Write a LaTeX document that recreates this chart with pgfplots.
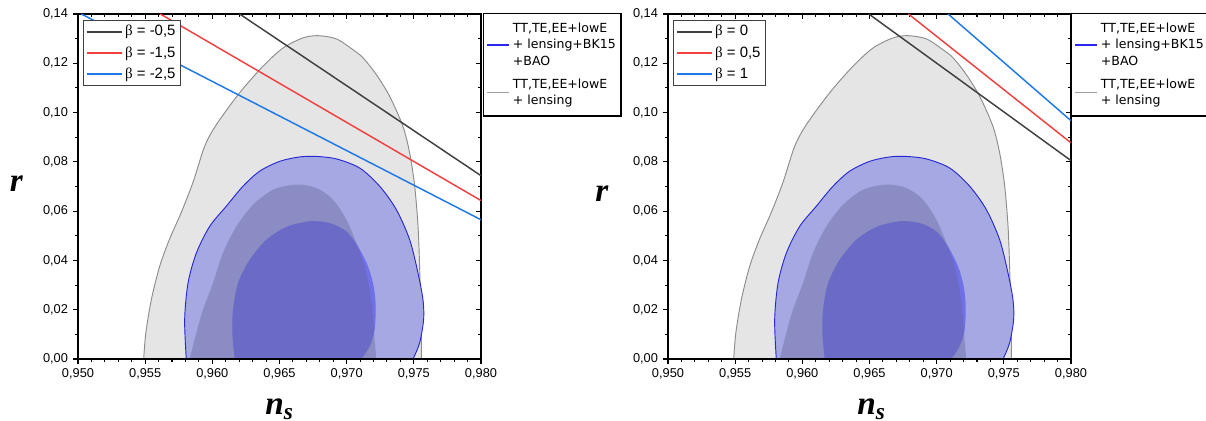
\documentclass[border=0pt]{standalone}
\usepackage{pgfplots}
\usepackage{pgfplotstable}
\pgfplotsset{compat=1.18}
\usepackage{fontspec}
\setmainfont{Liberation Sans}
\newfontfamily\grk{Liberation Serif}
\newfontfamily\legfont{DejaVu Sans}

\definecolor{bzero}{RGB}{64,64,64}
\definecolor{bred}{RGB}{240,64,64}
\definecolor{bblue}{RGB}{30,120,230}
\definecolor{gout}{RGB}{229,229,229}
\definecolor{gedge}{RGB}{140,140,140}
\definecolor{bout}{RGB}{165,168,227}
\definecolor{bedge}{RGB}{40,40,210}
\definecolor{bin}{RGB}{112,112,232}
\definecolor{gin}{RGB}{100,100,150}
\definecolor{legblue}{RGB}{40,40,240}
\definecolor{leggray}{RGB}{160,160,160}

% TT,TE,EE+lowE+lensing, 2 sigma
\pgfplotstableread{
ns r
0.95489 0
0.95505 0.0106
0.95546 0.0241
0.95608 0.0376
0.95682 0.0487
0.95769 0.0595
0.95856 0.0717
0.95943 0.0863
0.96030 0.0951
0.96203 0.1080
0.96377 0.1188
0.96526 0.1262
0.96675 0.1303
0.96787 0.1312
0.96923 0.1299
0.97047 0.1255
0.97122 0.1222
0.97221 0.1154
0.97320 0.1066
0.97419 0.0944
0.97469 0.0836
0.97506 0.0704
0.97531 0.0541
0.97543 0.0376
0.97556 0.0106
0.97556 0
}\grayout

% TT,TE,EE+lowE+lensing, 1 sigma
\pgfplotstableread{
ns r
0.95831 0
0.95881 0.0106
0.95930 0.0200
0.96005 0.0308
0.96079 0.0430
0.96179 0.0538
0.96303 0.0626
0.96452 0.0687
0.96625 0.0708
0.96774 0.0694
0.96898 0.0647
0.96998 0.0565
0.97072 0.0471
0.97134 0.0376
0.97171 0.0281
0.97196 0.0173
0.97208 0.0078
0.97221 0
}\grayin

% +BK15+BAO, 2 sigma
\pgfplotstableread{
ns r
0.95806 0
0.95794 0.0160
0.95819 0.0308
0.95881 0.0430
0.95980 0.0538
0.96104 0.0620
0.96228 0.0701
0.96352 0.0762
0.96501 0.0802
0.96650 0.0820
0.96774 0.0822
0.96923 0.0812
0.97097 0.0775
0.97246 0.0701
0.97370 0.0606
0.97469 0.0484
0.97531 0.0349
0.97568 0.0241
0.97573 0.0160
0.97543 0.0065
0.97494 0
}\blueout

% +BK15+BAO, 1 sigma
\pgfplotstableread{
ns r
0.96166 0
0.96149 0.0106
0.96154 0.0200
0.96191 0.0308
0.96278 0.0403
0.96402 0.0484
0.96551 0.0536
0.96725 0.0559
0.96873 0.0552
0.96998 0.0518
0.97084 0.0457
0.97159 0.0376
0.97201 0.0295
0.97216 0.0214
0.97208 0.0119
0.97171 0.0051
0.97109 0
}\bluein

\pgfplotsset{
  frame/.style={
    scale only axis, width=302.25pt, height=258.75pt,
    xmin=0.950, xmax=0.980, ymin=0, ymax=0.14,
    xtick={0.950,0.955,0.960,0.965,0.970,0.975,0.980},
    ytick={0,0.02,0.04,0.06,0.08,0.10,0.12,0.14},
    minor x tick num=4, minor y tick num=1,
    scaled ticks=false,
    axis line style={line width=1.1pt},
    major tick length=4pt, minor tick length=2.3pt,
    tick style={line width=0.8pt, black},
    tick label style={font=\fontsize{9.6}{11}\selectfont},
    xticklabel style={/pgf/number format/.cd, fixed, fixed zerofill, precision=3, use comma, assume math mode=true},
    yticklabel style={/pgf/number format/.cd, fixed, fixed zerofill, precision=2, use comma, assume math mode=true},
  },
  contours/.style={frame,
    tick align=outside, xtick pos=lower, ytick pos=left,
    xlabel={{\grk\bfseries\itshape n\textsubscript{s}}},
    xlabel style={font=\fontsize{25}{28}\selectfont, at={(axis description cs:0.5,-0.16)}, anchor=base},
    ylabel={{\grk\bfseries\itshape r}},
    ylabel style={font=\fontsize{25}{28}\selectfont, rotate=-90, anchor=center},
    legend style={anchor=north west, draw=black, line width=1.1pt,
      font=\legfont\fontsize{9.4}{12.3}\selectfont, cells={align=left, anchor=west}, row sep=4.5pt,
      inner xsep=2pt, inner ysep=5pt},
    legend image code/.code={\draw[#1] (0pt,0pt) -- (17pt,0pt);},
  },
  betas/.style={frame,
    tick align=inside, xtick pos=upper, ytick pos=right,
    xticklabels={}, yticklabels={},
    legend style={at={(rel axis cs:0.012,0.984)}, anchor=north west, draw=bzero, line width=0.9pt,
      font=\fontsize{11.2}{13}\selectfont, cells={anchor=west}, row sep=2.5pt, inner sep=2pt},
    legend image code/.code={\draw[#1] (0pt,0pt) -- (26pt,0pt);},
  },
}

\begin{document}
\begin{tikzpicture}
\useasboundingbox (-58.5pt,-46.5pt) rectangle (846pt,269.25pt);

% ---------- left panel ----------
\begin{axis}[contours, at={(0pt,0pt)},
  legend style={at={(rel axis cs:1.004,1.003)}},
  ylabel style={at={(axis description cs:-0.153,0.507)}}]
\addplot[fill=gout, draw=gedge, line width=0.7pt, smooth, forget plot] table {\grayout};
\addplot[fill=bout, draw=bedge, line width=0.7pt, smooth, forget plot] table {\blueout};
\addplot[fill=bin, draw=none, smooth, forget plot] table {\bluein};
\addplot[fill=gin, fill opacity=0.4, draw=none, smooth, forget plot] table {\grayin};
\addlegendimage{color=legblue, draw=legblue, line width=1.2pt}
\addlegendentry{TT,TE,EE+lowE\\+ lensing+BK15\\+BAO}
\addlegendimage{color=leggray, draw=leggray, line width=1.2pt}
\addlegendentry{TT,TE,EE+lowE\\+ lensing}
\end{axis}
\begin{axis}[betas, at={(0pt,0pt)}]
\addplot[draw=bzero, line width=1.1pt, forget plot] coordinates {(0.96203,0.14) (0.980,0.0744)};
\addplot[draw=bred, line width=1.1pt, forget plot] coordinates {(0.95613,0.14) (0.980,0.0643)};
\addplot[draw=bblue, line width=1.1pt, forget plot] coordinates {(0.95025,0.14) (0.980,0.0565)};
\addlegendimage{draw=bzero, line width=1.3pt}
\addlegendentry{{\grk β} = -0,5}
\addlegendimage{draw=bred, line width=1.3pt}
\addlegendentry{{\grk β} = -1,5}
\addlegendimage{draw=bblue, line width=1.3pt}
\addlegendentry{{\grk β} = -2,5}
\end{axis}

% ---------- right panel ----------
\begin{axis}[contours, at={(442.5pt,0pt)},
  legend style={at={(rel axis cs:0.999,1.003)}},
  ylabel style={at={(axis description cs:-0.164,0.48)}},
  xlabel style={at={(axis description cs:0.505,-0.16)}}]
\addplot[fill=gout, draw=gedge, line width=0.7pt, smooth, forget plot] table {\grayout};
\addplot[fill=bout, draw=bedge, line width=0.7pt, smooth, forget plot] table {\blueout};
\addplot[fill=bin, draw=none, smooth, forget plot] table {\bluein};
\addplot[fill=gin, fill opacity=0.4, draw=none, smooth, forget plot] table {\grayin};
\addlegendimage{color=legblue, draw=legblue, line width=1.2pt}
\addlegendentry{TT,TE,EE+lowE\\+ lensing+BK15\\+BAO}
\addlegendimage{color=leggray, draw=leggray, line width=1.2pt}
\addlegendentry{TT,TE,EE+lowE\\+ lensing}
\end{axis}
\begin{axis}[betas, at={(442.5pt,0pt)}]
\addplot[draw=bzero, line width=1.1pt, forget plot] coordinates {(0.96495,0.14) (0.980,0.0805)};
\addplot[draw=bred, line width=1.1pt, forget plot] coordinates {(0.96790,0.14) (0.980,0.0877)};
\addplot[draw=bblue, line width=1.1pt, forget plot] coordinates {(0.97085,0.14) (0.980,0.0967)};
\addlegendimage{draw=bzero, line width=1.3pt}
\addlegendentry{{\grk β} = 0}
\addlegendimage{draw=bred, line width=1.3pt}
\addlegendentry{{\grk β} = 0,5}
\addlegendimage{draw=bblue, line width=1.3pt}
\addlegendentry{{\grk β} = 1}
\end{axis}
\end{tikzpicture}
\end{document}
